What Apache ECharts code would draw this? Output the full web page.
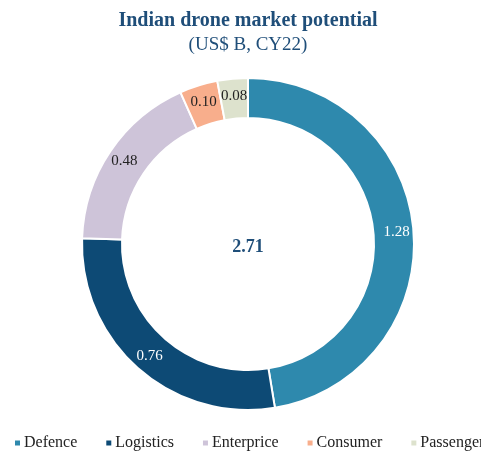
<!DOCTYPE html>
<html>
<head>
<meta charset="utf-8">
<script src="https://cdn.jsdelivr.net/npm/echarts@6/dist/echarts.min.js"></script>
<style>
  html, body { margin: 0; padding: 0; background: #fff; }
</style>
</head>
<body>
<div id="chart" style="width:481px; height:452px"></div>
<script>
var categories = ["Defence", "Logistics", "Enterprice", "Consumer", "Passenger"];
var values = [1.28, 0.76, 0.48, 0.10, 0.08];
var colors = ["#2E89AD", "#0D4A75", "#CEC4D9", "#F8AE8C", "#DDE2CD"];
var labelColors = ["#ffffff", "#ffffff", "#222222", "#222222", "#222222"];
var totalLabel = "2.71";

var serif = "'Liberation Serif', 'DejaVu Serif', serif";

var pieData = categories.map(function(name, i) {
  return {
    name: name,
    value: values[i],
    itemStyle: { color: colors[i] },
    label: { color: labelColors[i] }
  };
});

var myChart = echarts.init(document.getElementById("chart"));
myChart.setOption({
  animation: false,
  title: [
    {
      text: "Indian drone market potential",
      subtext: "(US$ B, CY22)",
      left: 243,
      textAlign: "center",
      top: 6,
      itemGap: 5,
      textStyle: {
        fontFamily: serif,
        fontSize: 20,
        fontWeight: "bold",
        color: "#1F4E79"
      },
      subtextStyle: {
        fontFamily: serif,
        fontSize: 19,
        color: "#1F4E79"
      }
    },
    {
      text: totalLabel,
      left: 243,
      top: 233,
      textAlign: "center",
      textStyle: {
        fontFamily: serif,
        fontSize: 18,
        fontWeight: "bold",
        color: "#1F4E79"
      }
    }
  ],
  legend: {
    data: categories,
    top: 435,
    left: 13,
    width: 520,
    padding: 0,
    itemWidth: 7,
    itemHeight: 7,
    itemGap: 27,
    icon: "rect",
    textStyle: {
      fontFamily: serif,
      fontSize: 16,
      color: "#222",
      padding: [0, 0, 0, -2]
    }
  },
  series: [
    {
      type: "pie",
      radius: [126, 166],
      center: [248, 244],
      startAngle: 90,
      clockwise: true,
      avoidLabelOverlap: false,
      itemStyle: {
        borderColor: "#fff",
        borderWidth: 2
      },
      label: {
        show: true,
        position: "inside",
        fontFamily: serif,
        fontSize: 15,
        formatter: function(p) {
          return p.value.toFixed(2);
        }
      },
      labelLine: { show: false },
      data: pieData
    }
  ]
});
</script>
</body>
</html>
